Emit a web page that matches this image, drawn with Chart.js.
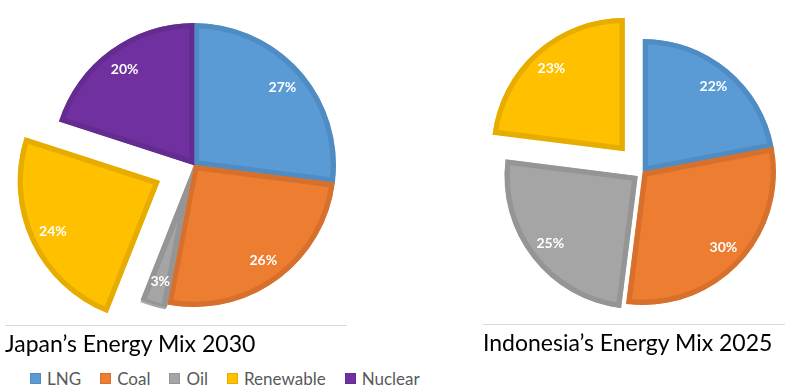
<!DOCTYPE html>
<html>
<head>
<meta charset="utf-8">
<script src="https://cdn.jsdelivr.net/npm/chart.js@4"></script>
<style>
  html, body { margin: 0; padding: 0; background: #fff; overflow: hidden; }
  body { width: 790px; height: 391px; position: relative; font-family: Lato, "Open Sans", sans-serif; }
  .box { position: absolute; }
  .title { position: absolute; border-top: 1px solid #d9d9d9; font-size: 23px; color: #000; padding-top: 3px; white-space: nowrap; }
  #legend { position: absolute; left: 30px; top: 368px; display: flex; font-size: 17px; color: #595959; white-space: nowrap; }
  #legend .item { display: flex; align-items: center; margin-right: 19px; }
  #legend .sw { width: 11px; height: 11px; margin-right: 6px; }
</style>
</head>
<body>
<div class="box" style="left:0;top:0;width:460px;height:330px"><canvas id="japanChart"></canvas></div>
<div class="box" style="left:470px;top:0;width:320px;height:344px"><canvas id="indoChart"></canvas></div>
<div class="title" style="left:5px;top:325px;width:342px">Japan’s Energy Mix 2030</div>
<div class="title" style="left:483px;top:324px;width:302px">Indonesia’s Energy Mix 2025</div>
<div id="legend"></div>

<script>
// data
const categories = ['LNG', 'Coal', 'Oil', 'Renewable', 'Nuclear'];
const japan2030 = [27, 26, 3, 24, 20];
const indonesia2025 = [22, 30, 25, 23, 0];

const fillColors = ['#5B9BD5', '#ED7D31', '#A5A5A5', '#FFC000', '#7030A0'];
const edgeColors = ['#4F8CC4', '#D6702C', '#959595', '#E6AD00', '#642B90'];

// how far each slice is pulled out (px)
const japanPull = [0, 0, 3, 38, 0];
const indoPull = [0, 0, 7, 28, 0];

// white % labels inside the slices
const sliceLabels = {
  id: 'sliceLabels',
  afterDatasetsDraw(chart) {
    const ctx = chart.ctx;
    const meta = chart.getDatasetMeta(0);
    const values = chart.data.datasets[0].data;
    ctx.save();
    ctx.font = 'bold 14px Lato, sans-serif';
    ctx.fillStyle = '#fff';
    ctx.textAlign = 'center';
    ctx.textBaseline = 'middle';
    meta.data.forEach((arc, i) => {
      if (!values[i]) return;
      const mid = (arc.startAngle + arc.endAngle) / 2;
      const shift = (arc.options.offset || 0) / 4;
      const r = arc.outerRadius * 0.83 + shift;
      ctx.fillText(values[i] + '%', arc.x + Math.cos(mid) * r, arc.y + Math.sin(mid) * r);
    });
    ctx.restore();
  }
};

function makePie(canvasId, values, pull, radius, padding) {
  return new Chart(document.getElementById(canvasId), {
    type: 'pie',
    data: {
      labels: categories,
      datasets: [{
        data: values,
        backgroundColor: fillColors,
        borderColor: edgeColors,
        borderWidth: 5,
        borderAlign: 'inner',
        offset: pull.map(p => p * 4)
      }]
    },
    options: {
      responsive: true,
      maintainAspectRatio: false,
      animation: false,
      events: [],
      radius: radius,
      layout: { padding: padding },
      plugins: {
        legend: { display: false },
        tooltip: { enabled: false }
      }
    },
    plugins: [sliceLabels]
  });
}

makePie('japanChart', japan2030, japanPull, 142, { left: 0, right: 72, top: 0, bottom: 0 });
makePie('indoChart', indonesia2025, indoPull, 133, { left: 26, right: 0, top: 0, bottom: 0 });

// legend
const legend = document.getElementById('legend');
categories.forEach((name, i) => {
  const item = document.createElement('div');
  item.className = 'item';
  item.innerHTML = `<span class="sw" style="background:${fillColors[i]};border:1px solid ${edgeColors[i]};box-sizing:border-box"></span>${name}`;
  legend.appendChild(item);
});
</script>
</body>
</html>
